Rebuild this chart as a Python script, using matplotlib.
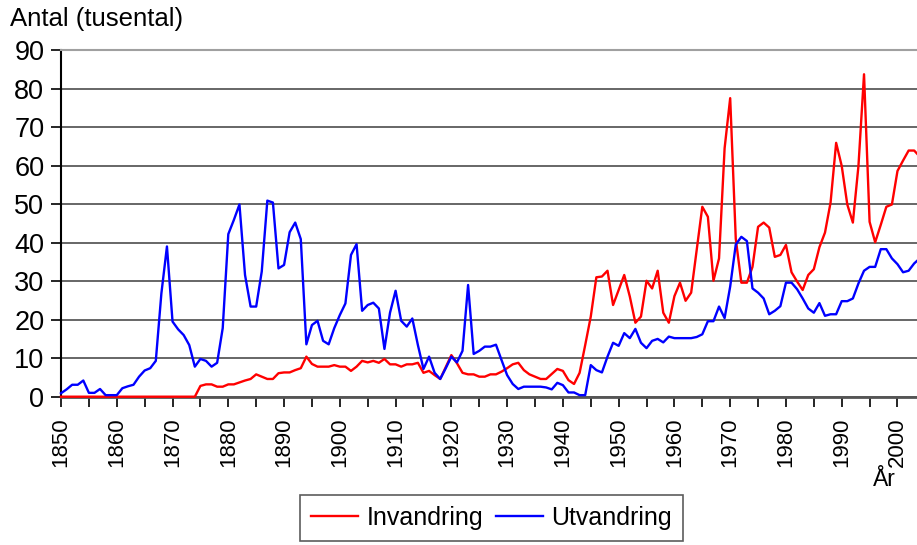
import matplotlib
matplotlib.use("Agg")
import matplotlib.pyplot as plt
import numpy as np

plt.rcParams['font.family'] = ['Liberation Sans', 'DejaVu Sans']

# data, thousands of people per year, 1850-2004
years = np.arange(1850, 2005)

utvandring = [
    0.9, 1.9, 3.1, 3.1, 4.2, 1.0, 1.0, 2.0, 0.4, 0.4,          # 1850
    0.4, 2.2, 2.7, 3.1, 5.2, 6.8, 7.4, 9.3, 26.8, 39.0,        # 1860
    19.5, 17.5, 16.0, 13.4, 7.8, 9.8, 9.3, 7.8, 8.8, 17.8,     # 1870
    42.2, 45.9, 49.9, 31.6, 23.4, 23.4, 32.5, 50.9, 50.4, 33.3,  # 1880
    34.2, 42.7, 45.2, 40.9, 13.6, 18.6, 19.7, 14.5, 13.6, 17.8,  # 1890
    21.2, 24.2, 36.8, 39.6, 22.3, 23.8, 24.4, 22.9, 12.4, 21.8,  # 1900
    27.5, 19.7, 18.2, 20.3, 13.4, 7.2, 10.4, 6.2, 4.6, 7.4,    # 1910
    10.4, 8.9, 11.9, 29.0, 11.1, 11.9, 13.0, 13.0, 13.5, 9.5,  # 1920
    5.6, 3.3, 2.0, 2.6, 2.6, 2.6, 2.6, 2.4, 1.9, 3.6,          # 1930
    3.0, 1.1, 1.1, 0.4, 0.4, 8.2, 6.9, 6.3, 10.4, 14.0,        # 1940
    13.2, 16.5, 15.2, 17.6, 14.0, 12.6, 14.5, 15.0, 14.1, 15.6,  # 1950
    15.2, 15.2, 15.2, 15.2, 15.5, 16.2, 19.6, 19.6, 23.4, 20.4,  # 1960
    28.6, 39.5, 41.5, 40.4, 28.1, 27.0, 25.5, 21.4, 22.3, 23.5,  # 1970
    29.6, 29.6, 27.9, 25.5, 22.9, 21.8, 24.3, 21.0, 21.4, 21.4,  # 1980
    24.8, 24.8, 25.5, 29.4, 32.7, 33.7, 33.7, 38.3, 38.3, 35.9,  # 1990
    34.4, 32.3, 32.7, 34.6, 35.9,                              # 2000
]

invandring = [
    0, 0, 0, 0, 0, 0, 0, 0, 0, 0,                              # 1850
    0, 0, 0, 0, 0, 0, 0, 0, 0, 0,                              # 1860
    0, 0, 0, 0, 0, 2.8, 3.2, 3.2, 2.6, 2.6,                    # 1870
    3.2, 3.2, 3.7, 4.2, 4.6, 5.8, 5.2, 4.6, 4.6, 6.1,          # 1880
    6.3, 6.3, 6.9, 7.4, 10.4, 8.5, 7.8, 7.8, 7.8, 8.2,         # 1890
    7.8, 7.8, 6.7, 7.8, 9.3, 8.9, 9.3, 8.8, 9.8, 8.4,          # 1900
    8.4, 7.8, 8.4, 8.4, 8.8, 6.2, 6.7, 5.6, 4.6, 7.7,          # 1910
    10.8, 8.7, 6.2, 5.8, 5.8, 5.2, 5.2, 5.8, 5.8, 6.5,         # 1920
    7.4, 8.4, 8.8, 6.9, 5.8, 5.2, 4.6, 4.6, 5.9, 7.2,          # 1930
    6.7, 4.3, 3.3, 6.2, 13.4, 20.8, 31.0, 31.2, 32.7, 23.8,    # 1940
    27.7, 31.6, 26.0, 19.2, 20.8, 30.1, 28.1, 32.7, 21.8, 19.2,  # 1950
    26.1, 29.6, 24.9, 27.0, 38.1, 49.3, 46.7, 30.1, 35.9, 64.5,  # 1960
    77.5, 41.0, 29.6, 29.6, 33.7, 44.1, 45.2, 43.9, 36.3, 36.8,  # 1970
    39.4, 32.3, 29.9, 27.7, 31.6, 33.1, 38.8, 42.6, 50.4, 65.9,  # 1980
    59.9, 49.9, 45.2, 59.9, 83.7, 45.4, 40.1, 44.6, 49.3, 49.9,  # 1990
    58.6, 61.3, 63.9, 63.9, 62.3,                              # 2000
]

tick_years = np.arange(1850, 2004, 5)
tick_labels = [str(y) if y % 10 == 0 else '' for y in tick_years]

fig = plt.figure(figsize=(9.17, 5.45), dpi=100)
ax = fig.add_axes([61 / 917, 148.3 / 545, 856 / 917, 346.7 / 545])

ax.plot(years, invandring, color='#ff0000', lw=1.7, label='Invandring',
        clip_on=False, zorder=3)
ax.plot(years, utvandring, color='#0000ff', lw=1.7, label='Utvandring',
        clip_on=False, zorder=3)

ax.set_xlim(1850, 2003.5)
ax.set_ylim(0, 90)
ax.set_yticks(range(0, 91, 10))
ax.set_xticks(tick_years)
ax.set_xticklabels(tick_labels, rotation=90)
ax.tick_params(axis='x', length=7, width=1.2, pad=8, labelsize=16)
ax.tick_params(axis='y', length=7, width=1.2, pad=5, labelsize=19.5)

ax.yaxis.grid(True, color='#4d4d4d', lw=1.2)
ax.set_axisbelow(True)
ax.spines['right'].set_visible(False)
ax.spines['top'].set_color('#a0a0a0')
ax.spines['top'].set_linewidth(1.5)
ax.spines['left'].set_color('black')
ax.spines['left'].set_linewidth(1.5)
ax.spines['bottom'].set_color('#555555')
ax.spines['bottom'].set_linewidth(2)

fig.text(10 / 917, 1 - 19 / 545, 'Antal (tusental)', fontsize=18.5, va='center', ha='left')
fig.text(884 / 917, 1 - 479 / 545, 'År', fontsize=16.5, va='center', ha='center')

leg = fig.legend(loc='center', bbox_to_anchor=(491.5 / 917, 1 - 518 / 545), ncol=2,
                 fancybox=False, edgecolor='#333333', fontsize=18, handlelength=1.9,
                 handletextpad=0.33, columnspacing=0.5, borderpad=0.45)
leg.get_frame().set_linewidth(1.2)

fig.savefig('out.png', dpi=100)
